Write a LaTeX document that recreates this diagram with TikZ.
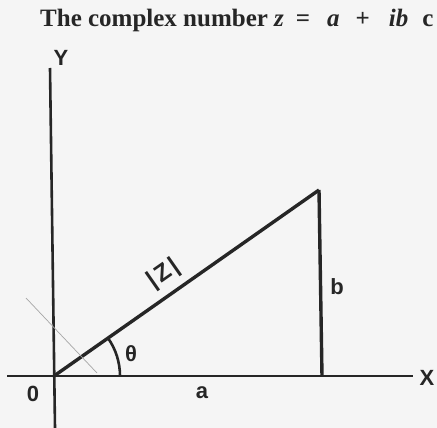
\documentclass[tikz,border=0pt]{standalone}
\usepackage{fontspec}
\setmainfont{Liberation Serif}
\setsansfont{Liberation Sans}
\usetikzlibrary{positioning}

\begin{document}
\begin{tikzpicture}[
  x=1pt, y=-1pt,
  axis/.style={line width=2.6pt, black!85},
  side/.style={line width=3.4pt, black!85},
  faint/.style={line width=0.7pt, black!35},
  lbl/.style={font=\sffamily\bfseries\fontsize{22}{22}\selectfont, text=black!85, inner sep=0pt},
  title/.style={font=\bfseries\fontsize{25}{30}\selectfont, text=black!85, inner sep=0pt}
]
\useasboundingbox (0,0) rectangle (437,428);
\clip (0,0) rectangle (437,428);
\fill[black!4] (0,0) rectangle (437,428);

\node[title, anchor=base west] (title) at (40,27)
  {The complex number \textit{z}\hspace{12pt}=\hspace{17pt}\textit{a}\hspace{16pt}+\hspace{19pt}\textit{ib}\hspace{14pt}c};

% axes
\coordinate (O) at (54,376);
\coordinate (xstart) at (7,376);
\coordinate (xend) at (413,376);
\coordinate (ytop) at (50,68);
\coordinate (ybot) at (55,428);
\draw[axis] (xstart) -- (xend);
\draw[axis] (ytop) -- (ybot);

% triangle
\coordinate (P) at (319,190);
\coordinate (F) at (322,376);
\draw[side] (O) -- (P);
\draw[side] (P) -- (F);
\draw[axis] ([shift={(0:66pt)}]O) arc[start angle=0, end angle=35, radius=66pt];

% stray pencil mark
\coordinate (m1) at (26,298);
\coordinate (m2) at (97,373);
\draw[faint] (m1) -- (m2);

% labels
\node[lbl] (ylbl) at (61,58) {Y};
\node[lbl] (xlbl) at (427,378) {X};
\node[lbl] (olbl) at (33,394) {0};
\node[lbl] (albl) at (202,393) {a};
\node[lbl] (blbl) at (337,287) {b};
\node[lbl] (thlbl) at (131,354) {θ};
\node[lbl, font=\sffamily\bfseries\fontsize{24}{24}\selectfont, rotate=35] (zlbl) at (164,274) {|\hspace{3pt}Z\hspace{3pt}|};
\end{tikzpicture}
\end{document}
